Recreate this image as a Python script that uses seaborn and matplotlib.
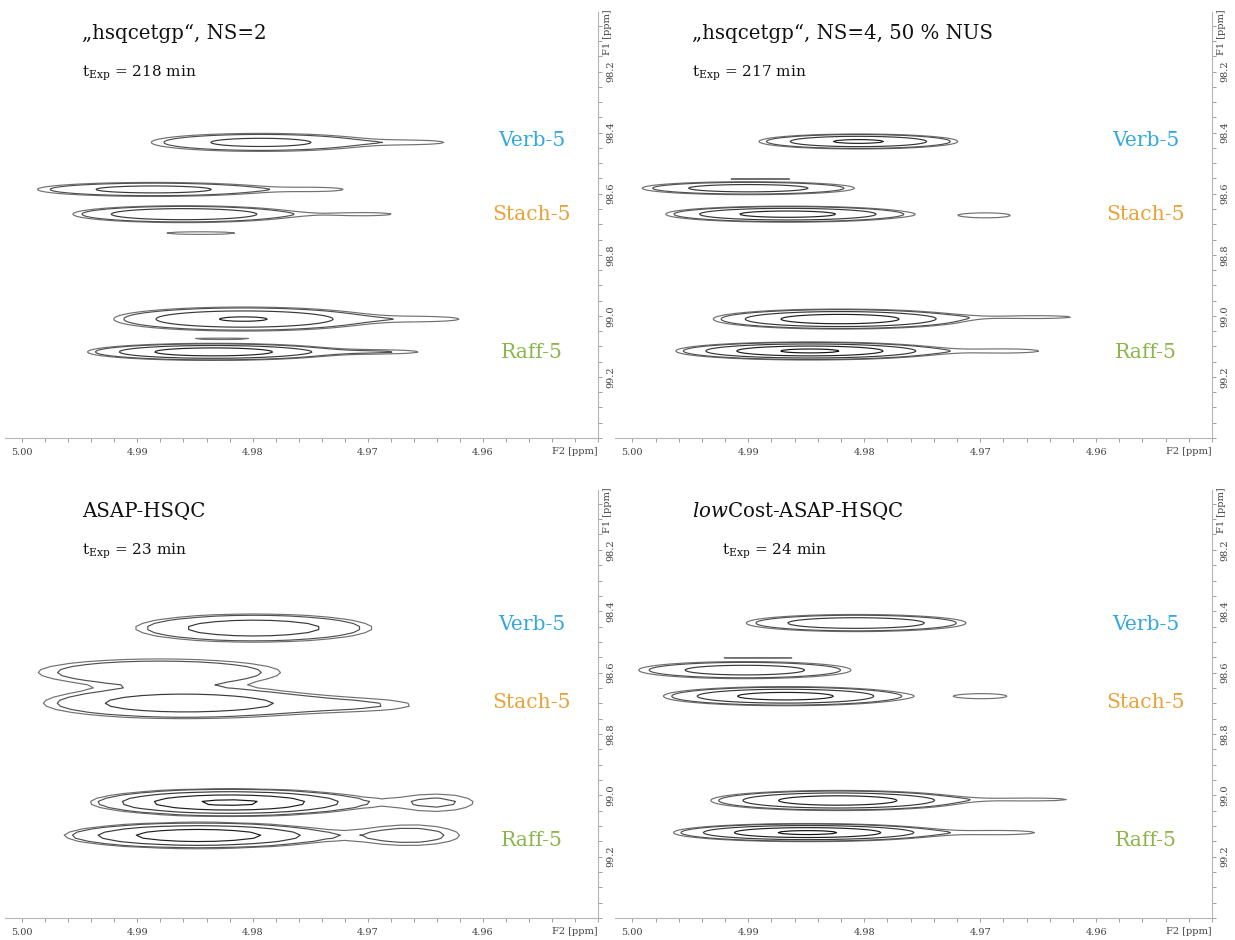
import numpy as np
import matplotlib
matplotlib.use("Agg")
import matplotlib.pyplot as plt
from matplotlib.ticker import MultipleLocator, FixedLocator, FormatStrFormatter
import seaborn as sns

# ---------------- data ----------------
PANEL_TITLES = ["\u201ehsqcetgp\u201c, NS=2",
                "\u201ehsqcetgp\u201c, NS=4, 50 % NUS",
                "ASAP-HSQC",
                r"$\mathit{low}$Cost-ASAP-HSQC"]
EXP_TIMES_MIN = [218, 217, 23, 24]
SIGNAL_NAMES = ["Verb-5", "Stach-5", "Raff-5"]
SIGNAL_COLORS = ["#35a8e2", "#e9a23a", "#8cb64c"]
X_TICKS = [5.00, 4.99, 4.98, 4.97, 4.96]
Y_TICKS = [98.2, 98.4, 98.6, 98.8, 99.0, 99.2]
CONTOUR_LEVELS = [1.0, 1.35, 3.0, 7.0, 14.0]

# cross peaks: (F2 ppm, F1 ppm, F2 width, F1 width, intensity)
PEAKS_HSQC_NS2 = [
    (4.9793, 98.432, 0.0057, 0.0177, 4.0),
    (4.9652, 98.432, 0.0035, 0.0098, 1.05),
    (4.9886, 98.586, 0.0059, 0.0134, 4.3),
    (4.9738, 98.586, 0.0032, 0.0095, 1.05),
    (4.9860, 98.667, 0.0049, 0.0141, 6.8),
    (4.9700, 98.667, 0.0042, 0.0095, 1.12),
    (4.9845, 98.729, 0.0067, 0.0100, 1.1),
    (4.9808, 99.0105, 0.0056, 0.0196, 7.5),
    (4.9645, 99.0105, 0.0042, 0.0120, 1.15),
    (4.9834, 99.118, 0.0049, 0.0125, 12.0),
    (4.9686, 99.118, 0.0040, 0.0080, 1.3),
    (4.9827, 99.075, 0.0055, 0.0050, 1.05),
]
PEAKS_HSQC_NS4_NUS = [
    (4.9805, 98.429, 0.0042, 0.0120, 8.0),
    (4.9900, 98.582, 0.0051, 0.0118, 5.0),
    (4.9888, 98.551, 0.0045, 0.0025, 1.05),
    (4.9866, 98.667, 0.0049, 0.0122, 10.0),
    (4.9694, 98.671, 0.0033, 0.0130, 1.2),
    (4.9821, 99.0105, 0.0049, 0.0147, 12.0),
    (4.9648, 99.004, 0.0048, 0.0080, 1.16),
    (4.9847, 99.115, 0.0049, 0.0125, 16.0),
    (4.9676, 99.115, 0.0042, 0.0100, 1.22),
]
PEAKS_ASAP = [
    (4.9799, 98.455, 0.0057, 0.0255, 5.0),
    (4.9881, 98.599, 0.0073, 0.0300, 2.8),
    (4.9859, 98.700, 0.0068, 0.0280, 5.0),
    (4.9701, 98.706, 0.0053, 0.0216, 1.2),
    (4.9820, 99.0235, 0.0051, 0.0190, 16.0),
    (4.9640, 99.0235, 0.0035, 0.0300, 1.5),
    (4.9847, 99.131, 0.0052, 0.0190, 12.0),
    (4.9664, 99.131, 0.0040, 0.0300, 1.8),
]
PEAKS_LOWCOST_ASAP = [
    (4.9807, 98.4386, 0.0050, 0.0147, 6.0),
    (4.9903, 98.592, 0.0051, 0.0155, 5.0),
    (4.9890, 98.552, 0.0045, 0.0020, 1.05),
    (4.9868, 98.677, 0.0049, 0.0145, 10.0),
    (4.9697, 98.677, 0.0033, 0.0130, 1.2),
    (4.9823, 99.017, 0.0049, 0.0147, 12.0),
    (4.9652, 99.0137, 0.0048, 0.0080, 1.16),
    (4.9849, 99.1216, 0.0049, 0.0125, 16.0),
    (4.9680, 99.1216, 0.0042, 0.0100, 1.22),
]
PANEL_PEAKS = [PEAKS_HSQC_NS2, PEAKS_HSQC_NS4_NUS, PEAKS_ASAP, PEAKS_LOWCOST_ASAP]

# ---------------- style ----------------
sns.set_theme(style="white")
plt.rcParams["font.family"] = ["DejaVu Serif"]
plt.rcParams["mathtext.fontset"] = "dejavuserif"

W, H = 1235, 940
fig = plt.figure(figsize=(W / 100, H / 100), dpi=100)
fig.patch.set_facecolor("white")

# axes boxes in pixels: (left, top, right, bottom)
BOXES = [(5, 12, 598, 438), (615, 12, 1212, 438),
         (5, 490, 598, 918), (615, 490, 1212, 918)]
GRID_STEP = [(0.0006, 0.003), (0.0006, 0.003), (0.0016, 0.010), (0.0006, 0.003)]
LINE_COLORS = ["#707070", "#505050", "#383838", "#202020", "#111111"]

for i, (box, peaks) in enumerate(zip(BOXES, PANEL_PEAKS)):
    l, t, r, b = box
    ax = fig.add_axes([l / W, 1 - b / H, (r - l) / W, (b - t) / H])
    dx, dy = GRID_STEP[i]
    xs = np.arange(4.948, 5.003, dx)
    ys = np.arange(98.0, 99.42, dy)
    X, Y = np.meshgrid(xs, ys)
    Z = np.zeros_like(X)
    for (x0, y0, sx, sy, a) in peaks:
        Z += a * np.exp(-0.5 * ((X - x0) / sx) ** 2 - 0.5 * ((Y - y0) / sy) ** 2)
    ax.contour(X, Y, Z, levels=CONTOUR_LEVELS, colors=LINE_COLORS, linewidths=0.85)

    ax.set_xlim(5.0015, 4.9500)
    ax.set_ylim(99.40, 98.005)
    for s in ["top", "left"]:
        ax.spines[s].set_visible(False)
    for s in ["bottom", "right"]:
        ax.spines[s].set_color("#b5b5b5")
        ax.spines[s].set_linewidth(0.8)
    ax.yaxis.tick_right()
    ax.xaxis.set_major_locator(FixedLocator(X_TICKS))
    ax.xaxis.set_minor_locator(MultipleLocator(0.002))
    ax.yaxis.set_major_locator(FixedLocator(Y_TICKS))
    ax.yaxis.set_minor_locator(MultipleLocator(0.05))
    ax.xaxis.set_major_formatter(FormatStrFormatter("%.2f"))
    ax.yaxis.set_major_formatter(FormatStrFormatter("%.1f"))
    ax.tick_params(axis="both", which="both", direction="out", length=3,
                   width=0.7, color="#a0a0a0", labelsize=7, labelcolor="#404040")
    ax.tick_params(axis="x", which="both", bottom=True, pad=4)
    ax.tick_params(axis="y", which="both", right=True, left=False, pad=3)
    for lab in ax.get_yticklabels():
        lab.set_rotation(90)
        lab.set_va("center")
    ax.grid(False)
    ax.set_facecolor("white")

    # axis unit labels
    fig.text((r - 23) / W, 1 - (b + 14) / H, "F2 [ppm]", fontsize=7,
             color="#404040", ha="center", va="center")
    fig.text((r + 9) / W, 1 - (t + 20) / H, "F1 [ppm]", fontsize=7,
             color="#404040", ha="center", va="center", rotation=90)

    # titles
    tx = l + 77
    ty = t + 21
    fig.text(tx / W, 1 - ty / H, PANEL_TITLES[i], fontsize=14.2, color="#111111",
             ha="left", va="center")
    ex = tx + (30 if i == 3 else 0)
    fig.text(ex / W, 1 - (ty + 40) / H,
             r"$\mathrm{t_{Exp}}$ = %d min" % EXP_TIMES_MIN[i],
             fontsize=11, color="#111111", ha="left", va="center")

    # signal labels
    lx = l + 527 if i % 2 == 0 else l + 531
    label_y = [128, 203, 340] if i < 2 else [134, 213, 350]
    for name, col, yy in zip(SIGNAL_NAMES, SIGNAL_COLORS, label_y):
        fig.text(lx / W, 1 - (t + yy) / H, name, fontsize=14.6, color=col,
                 ha="center", va="center")

fig.savefig("out.png", dpi=100, facecolor="white")
